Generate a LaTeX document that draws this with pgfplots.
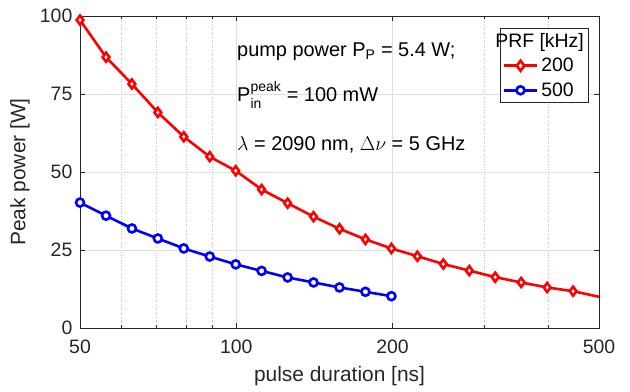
\RequirePackage{fix-cm}
\documentclass[border=0pt]{standalone}
\usepackage{fontspec}
\setmainfont{Liberation Sans}
\usepackage{amsmath}
\usepackage{pgfplots}
\pgfplotsset{compat=1.18}

\definecolor{axgray}{RGB}{38,38,38}
\definecolor{gridmaj}{RGB}{223,223,223}
\definecolor{gridmin}{RGB}{201,201,201}

\pgfplotstableread{
x y
50 98.7
56.12 86.8
62.95 78.2
70.63 69.1
79.24 61.3
88.91 54.9
99.76 50.4
111.9 44.4
125.6 40.0
140.9 35.7
158.1 31.8
177.4 28.4
199.1 25.5
223.4 23.0
250.6 20.5
281.2 18.4
315.5 16.3
354.0 14.6
397.2 13.0
445.7 11.8
500 10.0
}\redtab

\pgfplotstableread{
x y
50 40.2
56.12 36.0
62.95 31.9
70.63 28.7
79.24 25.5
88.91 22.9
99.76 20.4
111.9 18.3
125.6 16.2
140.9 14.6
158.1 13.0
177.4 11.6
199.1 10.2
}\bluetab

\begin{document}
\begin{tikzpicture}
\begin{axis}[
  name=ax,
  scale only axis, width=519bp, height=312bp,
  xmode=log, xmin=50, xmax=500, ymin=0, ymax=100,
  xtick={50,100,200,500}, xticklabels={50,100,200,500},
  minor xtick={60,70,80,90,300,400},
  ytick={0,25,50,75,100},
  xmajorgrids, ymajorgrids, xminorgrids,
  major grid style={gridmaj, line width=0.6bp},
  minor grid style={gridmin, line width=0.6bp, dotted},
  tick align=inside, tick pos=both,
  major tick length=5bp, minor tick length=3.5bp,
  axis line style={axgray, line width=0.6bp},
  every tick/.style={axgray, line width=0.6bp},
  tick label style={font=\fontsize{19.5}{22}\selectfont, text=axgray, inner sep=1bp},
  xticklabel style={yshift=-11bp},
  yticklabel style={xshift=-6.5bp},
  /pgf/number format/assume math mode=true,
  xlabel={pulse duration [ns]}, ylabel={Peak power [W]},
  xlabel style={at={(axis description cs:0.5,-0.1538)}, anchor=center, font=\fontsize{21}{24}\selectfont, text=axgray},
  ylabel style={at={(axis description cs:-0.1156,0.5)}, anchor=center, font=\fontsize{21}{24}\selectfont, text=axgray},
  legend style={at={(rel axis cs:0.979,0.962)}, anchor=north east, draw=axgray, line width=0.6bp,
    font=\fontsize{19.5}{22}\selectfont, inner xsep=2bp, inner ysep=3bp, row sep=5.5bp,
    /tikz/every odd column/.append style={column sep=1bp}},
  legend cell align=left,
  clip=false,
]
\addlegendimage{empty legend}
\addlegendentry{\hspace{-46bp}PRF [kHz]}

\addplot[red, line width=2.6bp, mark=diamond*, mark size=4.5bp,
  mark indices={1,2,3,4,5,6,7,8,9,10,11,12,13,14,15,16,17,18,19,20},
  mark options={solid, fill=white, line width=2.6bp},
  legend image code/.code={
    \draw[red, line width=2.6bp] (0bp,0bp) -- (33bp,0bp);
    \draw[red, fill=red, line width=1.5bp] plot[mark=diamond*, mark size=5bp] coordinates {(16.5bp,0bp)};
  }] table[x=x, y=y] {\redtab};
\addlegendentry{200}

\addplot[blue, line width=2.6bp, mark=*, mark size=4bp,
  mark options={solid, fill=white, line width=2.6bp},
  legend image code/.code={
    \draw[blue, line width=2.6bp] (0bp,0bp) -- (33bp,0bp);
    \draw[blue, fill=blue, line width=1.5bp] plot[mark=*, mark size=4bp] coordinates {(16.5bp,0bp)};
  }] table[x=x, y=y] {\bluetab};
\addlegendentry{500}

\node[anchor=base west, font=\fontsize{20}{22}\selectfont, text=black, inner sep=0pt]
  at (rel axis cs:0.3025,0.8696) {pump power P\textsubscript{P} = 5.4 W;};
\node[anchor=base west, font=\fontsize{20}{22}\selectfont, text=black, inner sep=0pt]
  at (rel axis cs:0.3025,0.7253) {P$^{\text{peak}}_{\text{in}}$ = 100 mW};
\node[anchor=base west, font=\fontsize{20}{22}\selectfont, text=black, inner sep=0pt]
  at (rel axis cs:0.3025,0.5705) {$\lambda$ = 2090 nm, $\Delta\nu$ = 5 GHz};
\end{axis}
\pgfresetboundingbox
\path[use as bounding box] ([shift={(-80bp,-64bp)}]ax.south west) rectangle ([shift={(31bp,16bp)}]ax.north east);
\end{tikzpicture}
\end{document}
